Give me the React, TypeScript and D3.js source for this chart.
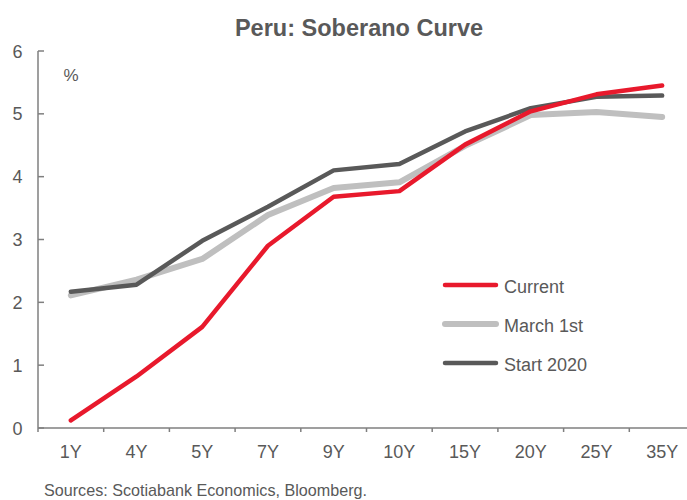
import React from "react";
import * as d3 from "d3";

const categories = ["1Y", "4Y", "5Y", "7Y", "9Y", "10Y", "15Y", "20Y", "25Y", "35Y"];
const currentValues = [0.12, 0.82, 1.61, 2.9, 3.68, 3.77, 4.51, 5.04, 5.31, 5.45];
const march1Values = [2.11, 2.36, 2.69, 3.39, 3.82, 3.91, 4.49, 4.98, 5.03, 4.95];
const start2020Values = [2.17, 2.28, 2.98, 3.52, 4.1, 4.2, 4.72, 5.09, 5.27, 5.29];
const yTicks = [0, 1, 2, 3, 4, 5, 6];

const series = [
  { name: "Current", values: currentValues, color: "#E8192C", width: 4.5 },
  { name: "March 1st", values: march1Values, color: "#BFBFBF", width: 6 },
  { name: "Start 2020", values: start2020Values, color: "#595959", width: 4.5 },
];
const drawOrder = [1, 2, 0];

export default function App() {
  const W = 687, H = 500;
  const left = 38, right = 695, top = 51, bottom = 428;
  const x = d3.scaleBand<string>().domain(categories).range([left, right]);
  const y = d3.scaleLinear().domain([0, 6]).range([bottom, top]);
  const line = d3
    .line<number>()
    .x((_, i) => (x(categories[i]) as number) + x.bandwidth() / 2)
    .y((d) => y(d));
  const font = "Arial, 'Liberation Sans', sans-serif";
  const axisColor = "#7F7F7F";
  const textColor = "#595959";
  return (
    <svg width={W} height={H} style={{ position: "absolute", left: 0, top: 0 }} fontFamily={font}>
      <text x={359} y={36} textAnchor="middle" fontSize={23.5} fontWeight="bold" fill={textColor}>
        Peru: Soberano Curve
      </text>
      <line x1={left} x2={left} y1={top} y2={bottom} stroke={axisColor} strokeWidth={1.5} />
      {yTicks.map((t) => (
        <g key={t}>
          <line x1={left} x2={left + 6} y1={y(t)} y2={y(t)} stroke={axisColor} strokeWidth={1.5} />
          <text x={22.5} y={y(t) + 6.5} textAnchor="end" fontSize={18} fill={textColor}>
            {t}
          </text>
        </g>
      ))}
      <text x={71} y={81} textAnchor="middle" fontSize={17} fill={textColor}>%</text>
      <line x1={left} x2={right} y1={bottom} y2={bottom} stroke={axisColor} strokeWidth={1.5} />
      {categories.map((c) => (
        <g key={c}>
          <line x1={x(c) as number} x2={x(c) as number} y1={bottom} y2={bottom + 4} stroke={axisColor} strokeWidth={1.5} />
          <text x={(x(c) as number) + x.bandwidth() / 2} y={458} textAnchor="middle" fontSize={18} fill={textColor}>
            {c}
          </text>
        </g>
      ))}
      {drawOrder.map((i) => {
        const s = series[i];
        return (
          <path key={s.name} d={line(s.values) || ""} fill="none" stroke={s.color} strokeWidth={s.width} strokeLinejoin="round" strokeLinecap="round" />
        );
      })}
      {series.map((s, i) => (
        <g key={s.name} transform={`translate(0, ${285 + i * 39})`}>
          <line x1={445} x2={496} y1={0} y2={0} stroke={s.color} strokeWidth={s.width} strokeLinecap="round" />
          <text x={504} y={7.5} fontSize={18} fill={textColor}>{s.name}</text>
        </g>
      ))}
      <text x={44} y={496} fontSize={17} fill={textColor} textLength={323} lengthAdjust="spacingAndGlyphs">
        Sources: Scotiabank Economics, Bloomberg.
      </text>
    </svg>
  );
}
